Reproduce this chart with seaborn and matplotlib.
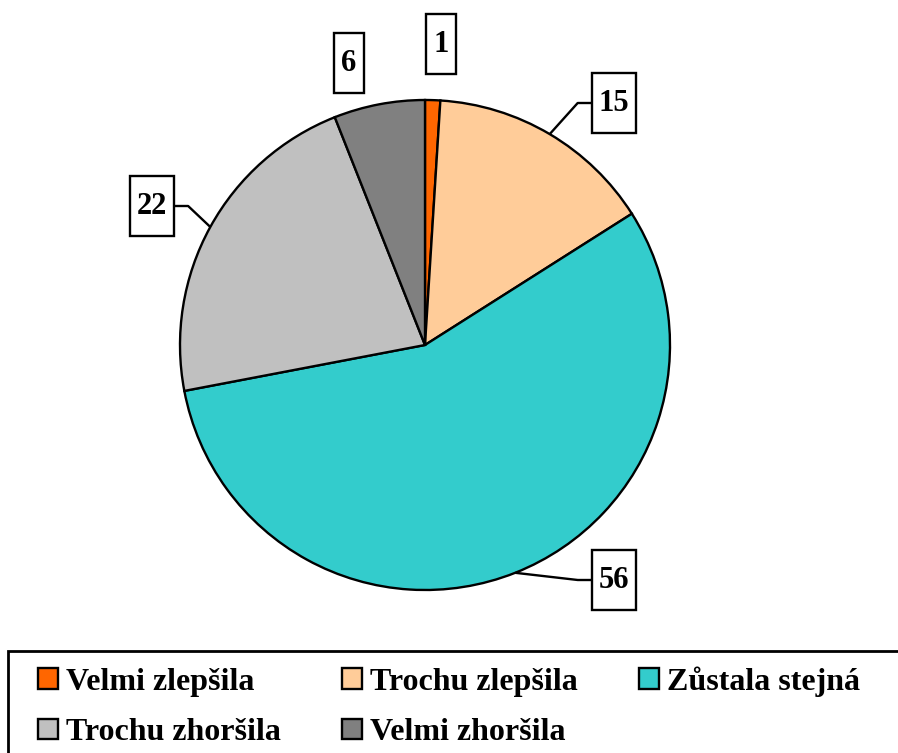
import numpy as np
import matplotlib
matplotlib.use("Agg")
import matplotlib.pyplot as plt
from matplotlib.patches import Rectangle
import seaborn as sns

categories = ["Velmi zlepšila", "Trochu zlepšila", "Zůstala stejná", "Trochu zhoršila", "Velmi zhoršila"]
values = [1, 15, 56, 22, 6]
colors = ["#FF6600", "#FFCC99", "#33CCCC", "#C0C0C0", "#808080"]

sns.set_style("white")
plt.rcParams["font.family"] = ["Liberation Serif", "DejaVu Serif"]
plt.rcParams["font.weight"] = "bold"
plt.rcParams["text.color"] = "black"

W, H = 898, 753
fig = plt.figure(figsize=(W / 100, H / 100), dpi=100)
ax = fig.add_axes([0, 0, 1, 1])

cx, cy, r = 425, H - 345, 245
wedges, _ = ax.pie(values, colors=colors, startangle=90, counterclock=False,
                   center=(cx, cy), radius=r, frame=True,
                   wedgeprops=dict(edgecolor="black", linewidth=1.7))
ax.set_xlim(0, W)
ax.set_ylim(0, H)
ax.set_aspect("equal")
ax.axis("off")

# label box centres (pixels from top-left) and whether a leader is drawn
box_pos = [(441, 44), (614, 103), (614, 580), (152, 206), (349, 63)]
leader = [False, True, True, True, False]

fig.canvas.draw()
rend = fig.canvas.get_renderer()
for w, v, (bx, by), ld in zip(wedges, values, box_pos, leader):
    t = ax.text(bx, H - by, str(v), ha="center", va="center", fontsize=22,
                fontweight="bold", color="black", zorder=5)
    bb = t.get_window_extent(renderer=rend)
    bw = bb.width + 14
    bh = 60
    ax.add_patch(Rectangle((bx - bw / 2, H - by - bh / 2), bw, bh, facecolor="white",
                           edgecolor="black", linewidth=1.7, zorder=4))
    if ld:
        mid = np.deg2rad((w.theta1 + w.theta2) / 2)
        ex, ey = cx + r * np.cos(mid), cy + r * np.sin(mid)
        side = -1 if ex > cx else 1
        edge_x = bx + side * bw / 2
        elbow_x = edge_x + side * 14
        ax.plot([ex, elbow_x, edge_x], [ey, H - by, H - by], color="black",
                linewidth=1.7, zorder=3, solid_capstyle="butt")

# legend frame running off the right/bottom edge
ax.add_patch(Rectangle((8, -20), W + 20, H - 651 + 20, facecolor="white",
                       edgecolor="black", linewidth=2, zorder=1, clip_on=False))

# row-major order for a 3-column legend
order = [0, 3, 1, 4, 2]
leg = ax.legend([wedges[i] for i in order], [categories[i] for i in order],
                loc="upper left", bbox_to_anchor=(38 / W, (H - 666) / H),
                ncol=3, frameon=False,
                prop=dict(family="Liberation Serif", weight="bold", size=23),
                handlelength=0.62, handleheight=0.62, handletextpad=0.25,
                columnspacing=1.92, labelspacing=0.68, borderaxespad=0, borderpad=0)
for txt in leg.get_texts():
    txt.set_color("black")

fig.savefig("out.png", dpi=100)
